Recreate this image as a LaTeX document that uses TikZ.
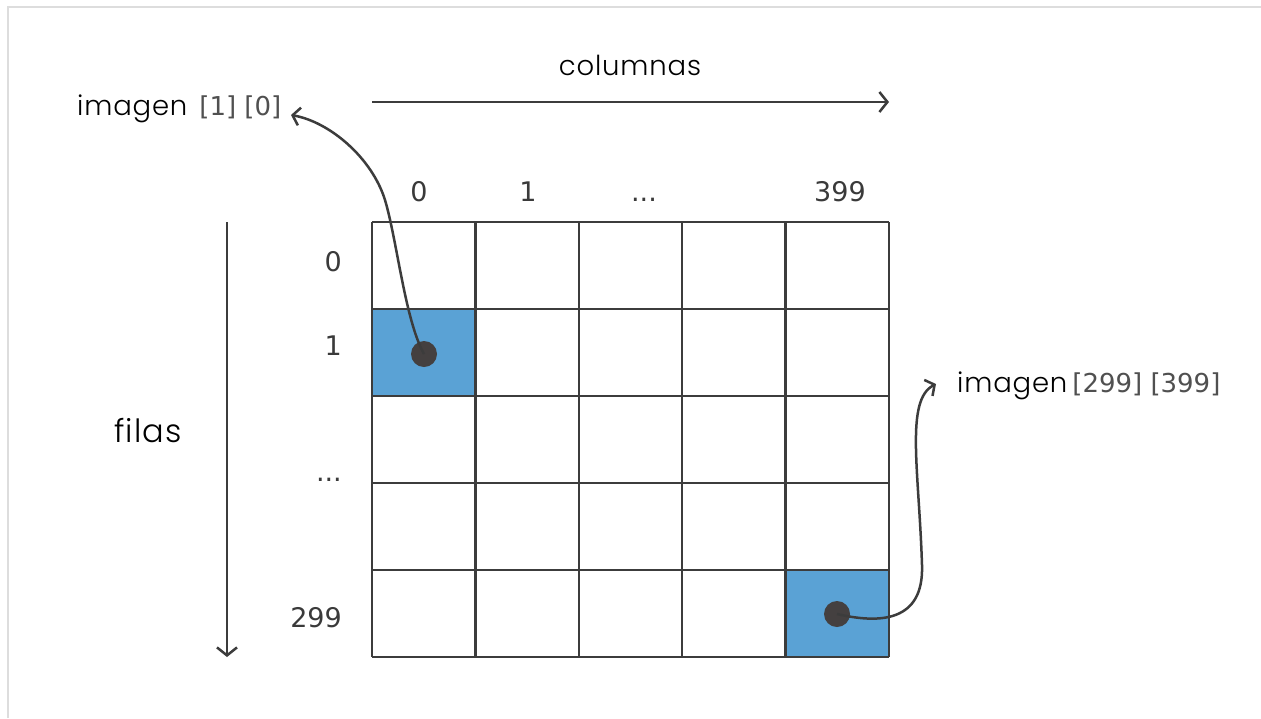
\documentclass[tikz,border=0pt]{standalone}
\usepackage{fontspec}
\setmainfont{Poppins Light}[LetterSpace=3]
\newfontfamily\numfont{DejaVu Sans}
\usetikzlibrary{arrows.meta}
\definecolor{ink}{HTML}{3C3C3C}
\definecolor{numgray}{HTML}{3A3A3A}
\definecolor{lblgray}{HTML}{505050}
\definecolor{cellblue}{RGB}{90,162,213}
\definecolor{framegray}{HTML}{DDDDDD}
\definecolor{dotgray}{HTML}{444040}
\begin{document}
\begin{tikzpicture}[x=1pt,y=-1pt,
  gridline/.style={draw=ink,line width=2.5pt},
  arr/.style={draw=ink,line width=2.5pt,-{Straight Barb[length=8pt,width=20pt]}},
  curvearr/.style={draw=ink,line width=2.5pt,-{Straight Barb[length=7pt,width=18pt]}},
  word/.style={inner sep=0pt,font=\fontsize{27.5}{32}\selectfont,text=black},
  num/.style={inner sep=0pt,font=\numfont\fontsize{27}{32}\selectfont,text=numgray},
  dotnode/.style={circle,fill=dotgray,minimum size=26pt,inner sep=0pt},
]
\useasboundingbox (0,0) rectangle (1261,718);
\fill[white] (0,0) rectangle (1261,718);
% frame lines
\draw[framegray,line width=2.5pt] (8,718) -- (8,7) -- (1261,7);
% blue cells
\fill[cellblue] (372,309) rectangle (475.4,396);
\fill[cellblue] (785.6,570) rectangle (889,657);
% grid
\foreach \i in {0,...,5} {
  \draw[gridline] ({372+103.4*\i},222) -- ({372+103.4*\i},657);
  \draw[gridline] (372,{222+87*\i}) -- (889,{222+87*\i});
}
% column labels
\node[word,anchor=base] (colt) at (630,75) {columnas};
\coordinate (ca) at (372,102);
\coordinate (cb) at (889,102);
\draw[arr] (ca) -- (cb);
\node[num,anchor=base] (c0) at (419,201) {0};
\node[num,anchor=base] (c1) at (528,201) {1};
\node[num,anchor=base] (c2) at (644,201) {...};
\node[num,anchor=base] (c4) at (840,201) {399};
% row labels
\node[num,anchor=base east] (r0) at (342,271) {0};
\node[num,anchor=base east] (r1) at (342,355) {1};
\node[num,anchor=base east] (r2) at (342,481) {...};
\node[num,anchor=base east] (r4) at (342,627) {299};
\node[word,anchor=base,font=\fontsize{32}{36}\selectfont] (filas) at (148,442) {filas};
\coordinate (fa) at (227,222);
\coordinate (fb) at (227,657);
\draw[arr] (fa) -- (fb);
% dots
\node[dotnode] (d1) at (424,354) {};
\node[dotnode] (d2) at (837,614) {};
% labels
\node[word,anchor=base west] (l1) at (77,115) {imagen\hspace{12pt}{\numfont\fontsize{26}{30}\selectfont\color{lblgray}[1] [0]}};
\node[word,anchor=base west] (l2) at (957,392) {imagen\hspace{5pt}{\numfont\fontsize{26}{30}\selectfont\color{lblgray}[299] [399]}};
\coordinate (t1) at (291,115);
\coordinate (t2) at (936,384);
\draw[curvearr] (d1.center) .. controls (405,320) and (397,240) .. (385,200)
   .. controls (372,158) and (330,122) .. (t1);
\draw[curvearr] (d2.center) .. controls (880,624) and (924,622) .. (922,565)
   .. controls (919,470) and (905,400) .. (t2);
\end{tikzpicture}
\end{document}
